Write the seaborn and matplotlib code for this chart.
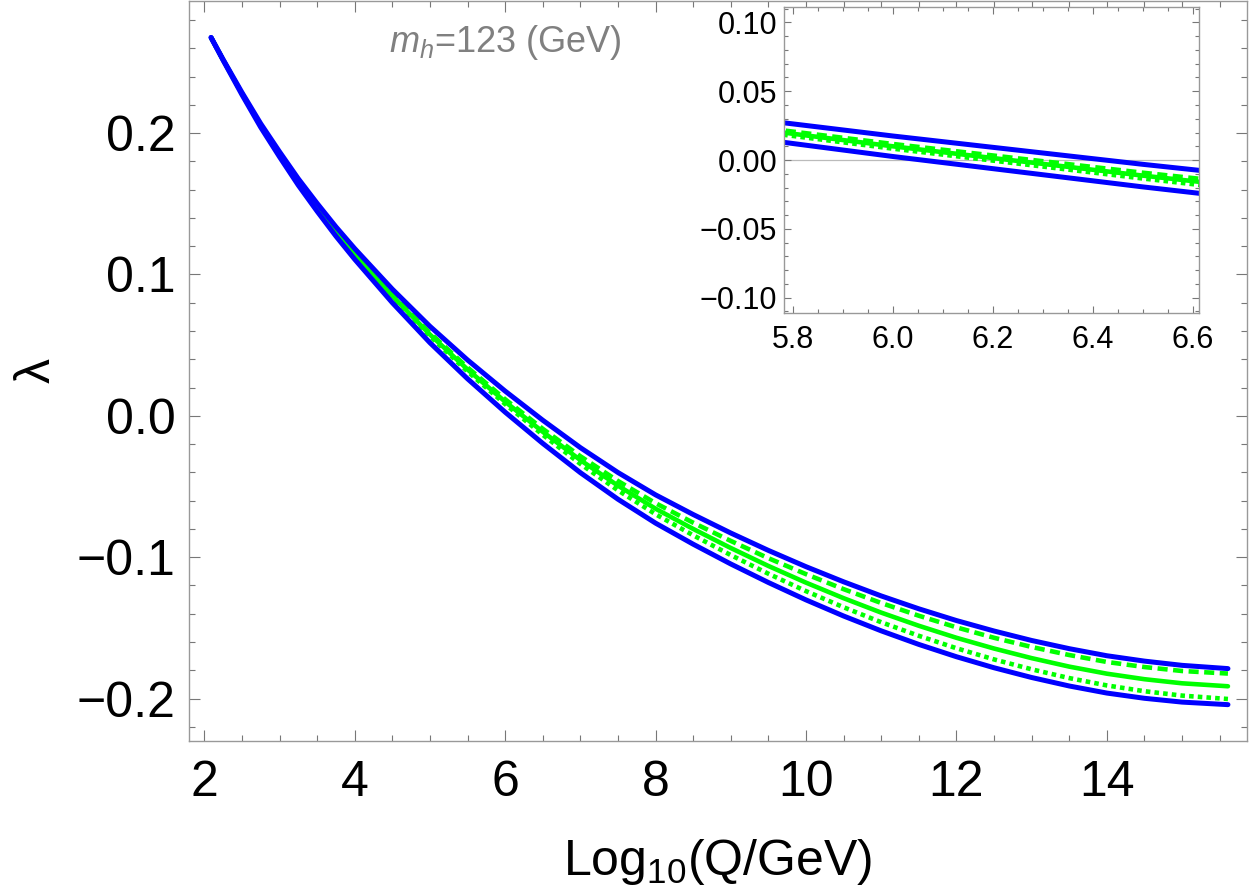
import matplotlib.pyplot as plt
import matplotlib.ticker as mticker
import pandas as pd
import seaborn as sns

# running scale log10(Q/GeV) and the quartic coupling
log_q = [2.09, 2.25, 2.5, 2.75, 3, 3.25, 3.5, 3.75, 4, 4.5, 5, 5.5, 6, 6.5,
         7, 7.5, 8, 8.5, 9, 9.5, 10, 10.5, 11, 11.5, 12, 12.5, 13, 13.5,
         14, 14.5, 15, 15.61]
lam_central = [0.2676, 0.2518, 0.2280, 0.2054, 0.1850, 0.1654, 0.1475, 0.1304,
               0.1145, 0.0848, 0.0575, 0.0328, 0.0100, -0.0113, -0.0313,
               -0.0494, -0.0657, -0.0800, -0.0935, -0.1062, -0.1180, -0.1290,
               -0.1392, -0.1485, -0.1570, -0.1646, -0.1714, -0.1774, -0.1824,
               -0.1863, -0.1892, -0.1913]
lam_upper = [0.2676, 0.2521, 0.2288, 0.2067, 0.1868, 0.1677, 0.1503, 0.1337,
             0.1183, 0.0896, 0.0633, 0.0395, 0.0175, -0.0031, -0.0225,
             -0.0401, -0.0559, -0.0698, -0.0829, -0.0952, -0.1067, -0.1174,
             -0.1274, -0.1365, -0.1448, -0.1522, -0.1589, -0.1647, -0.1697,
             -0.1735, -0.1765, -0.1788]
lam_lower = [0.2676, 0.2515, 0.2272, 0.2041, 0.1832, 0.1631, 0.1447, 0.1271,
             0.1107, 0.0800, 0.0517, 0.0262, 0.0026, -0.0195, -0.0402,
             -0.0590, -0.0759, -0.0908, -0.1048, -0.1179, -0.1302, -0.1416,
             -0.1521, -0.1617, -0.1704, -0.1782, -0.1851, -0.1911, -0.1961,
             -0.1998, -0.2025, -0.2043]
lam_dashed = [0.2676, 0.2518, 0.2281, 0.2056, 0.1853, 0.1658, 0.1480, 0.1310,
              0.1152, 0.0857, 0.0586, 0.0342, 0.0117, -0.0092, -0.0286,
              -0.0461, -0.0618, -0.0756, -0.0885, -0.1007, -0.1120, -0.1226,
              -0.1324, -0.1414, -0.1496, -0.1570, -0.1635, -0.1692, -0.1741,
              -0.1777, -0.1805, -0.1823]
lam_dotted = [0.2676, 0.2518, 0.2279, 0.2052, 0.1847, 0.1650, 0.1470, 0.1298,
              0.1138, 0.0839, 0.0564, 0.0314, 0.0083, -0.0134, -0.0340,
              -0.0527, -0.0696, -0.0845, -0.0985, -0.1117, -0.1240, -0.1354,
              -0.1460, -0.1556, -0.1644, -0.1723, -0.1793, -0.1855, -0.1907,
              -0.1948, -0.1979, -0.2003]

series = [
    (lam_central, "#00ff00", "-", 3.3),
    (lam_dashed, "#00ff00", (0, (2.2, 1.2)), 3.3),
    (lam_dotted, "#00ff00", (0, (1.0, 0.9)), 3.3),
    (lam_upper, "#0000ff", "-", 3.6),
    (lam_lower, "#0000ff", "-", 3.6),
]

sns.set_theme(style="ticks")
plt.rcParams["font.family"] = ["Liberation Sans", "DejaVu Sans"]
plt.rcParams["mathtext.fontset"] = "custom"
plt.rcParams["mathtext.rm"] = "Liberation Sans"
plt.rcParams["mathtext.it"] = "Liberation Sans:italic"
plt.rcParams["text.color"] = "black"
plt.rcParams["axes.labelcolor"] = "black"

frame_col = "#999999"


def minus_fmt(decimals):
    def f(v, pos):
        s = f"{v:.{decimals}f}"
        if float(s) == 0:
            s = f"{0:.{decimals}f}"
        return s.replace("-", "\u2212")
    return mticker.FuncFormatter(f)


def style_axes(ax, major_len, minor_len, size, pad):
    for sp in ax.spines.values():
        sp.set_color(frame_col)
        sp.set_linewidth(1.0)
    ax.tick_params(which="both", direction="in", top=True, right=True,
                   color="#777777", width=0.8, labelsize=size, pad=pad,
                   labelcolor="black")
    ax.tick_params(which="major", length=major_len)
    ax.tick_params(which="minor", length=minor_len)


def draw_curves(ax):
    for vals, col, ls, lw in series:
        df = pd.DataFrame({"x": log_q, "y": vals})
        sns.lineplot(data=df, x="x", y="y", color=col, linestyle=ls,
                     linewidth=lw, ax=ax, legend=False)


fig = plt.figure(figsize=(12.5, 8.92), dpi=100)
ax = fig.add_axes([0.1514, 0.1693, 0.846, 0.8297])
draw_curves(ax)
ax.set_xlim(1.80, 15.86)
ax.set_ylim(-0.230, 0.2935)
ax.xaxis.set_major_locator(mticker.MultipleLocator(2))
ax.xaxis.set_minor_locator(mticker.MultipleLocator(0.5))
ax.yaxis.set_major_locator(mticker.MultipleLocator(0.1))
ax.yaxis.set_minor_locator(mticker.MultipleLocator(0.02))
ax.yaxis.set_major_formatter(minus_fmt(1))
style_axes(ax, 8, 4, 36, 10)
ax.tick_params(axis="x", pad=14)
ax.set_xlabel(r"Log$_{10}$(Q/GeV)", fontsize=36, labelpad=22)
ax.set_ylabel("\u03bb", fontsize=36, labelpad=12)
ax.text(6.0, 0.264, r"$m_h$=123 (GeV)", color="#808080", fontsize=26,
        ha="center", va="center")

ax_in = fig.add_axes([0.6272, 0.6494, 0.332, 0.3424])
ax_in.set_facecolor("white")
ax_in.axhline(0, color="#bbbbbb", linewidth=0.9, zorder=0)
draw_curves(ax_in)
ax_in.set_xlim(5.783, 6.613)
ax_in.set_ylim(-0.111, 0.111)
ax_in.xaxis.set_major_locator(mticker.MultipleLocator(0.2))
ax_in.xaxis.set_minor_locator(mticker.MultipleLocator(0.05))
ax_in.yaxis.set_major_locator(mticker.MultipleLocator(0.05))
ax_in.yaxis.set_minor_locator(mticker.MultipleLocator(0.01))
ax_in.xaxis.set_major_formatter(minus_fmt(1))
ax_in.yaxis.set_major_formatter(minus_fmt(2))
style_axes(ax_in, 5, 3, 22, 5)
ax_in.tick_params(axis="x", pad=9)
ax_in.set_xlabel("")
ax_in.set_ylabel("")

fig.savefig("out.png", dpi=100)
